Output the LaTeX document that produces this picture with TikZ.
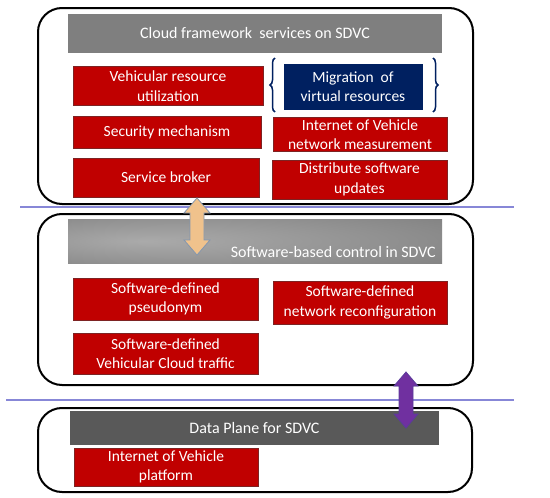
\documentclass[tikz,border=0pt]{standalone}
\usepackage{fontspec}
\setmainfont{Carlito}
\usepackage{tikz}
\usetikzlibrary{decorations.pathreplacing,positioning}
\usepackage{xcolor}
\definecolor{sdred}{RGB}{192,0,0}
\definecolor{sdredline}{RGB}{125,35,35}
\definecolor{sdnavy}{RGB}{0,32,96}
\definecolor{sdgray}{RGB}{127,127,127}
\definecolor{sddark}{RGB}{89,89,89}
\definecolor{sdlight}{RGB}{170,170,170}
\definecolor{sdmid}{RGB}{108,108,108}
\definecolor{sdline}{RGB}{135,135,215}
\definecolor{sdtan}{RGB}{240,194,140}
\definecolor{sdtanline}{RGB}{130,150,175}
\definecolor{sdpurple}{RGB}{112,48,160}
\definecolor{sdpurpleline}{RGB}{90,60,155}
\pgfdeclareradialshading{ctrlshade}{\pgfpoint{-15bp}{0bp}}{color(0bp)=(sdlight); color(65bp)=(sdmid)}
\tikzstyle{frame} = [line width=2pt, rounded corners=24pt]
\tikzstyle{header} = [inner sep=0pt, text=white, font=\fontsize{16}{19}\selectfont]
\tikzstyle{redbox} = [fill=sdred, draw=sdredline, line width=0.8pt, text=white, align=center, inner sep=0pt, font=\fontsize{15.5}{19.5}\selectfont]
\tikzstyle{layerline} = [line width=2pt, color=sdline]
\tikzstyle{updown} = [line width=0.8pt, line join=miter]
\tikzstyle{navybrace} = [decorate, decoration={brace, amplitude=5pt}, line width=1.5pt, color=sdnavy]

\begin{document}
\begin{tikzpicture}[x=1pt, y=-1pt]
\useasboundingbox (0,0) rectangle (550,498);

% Layer separators
\draw[layerline] (20,207) -- (514,207);
\draw[layerline] (6,400) -- (514,400);

% Cloud framework layer
\draw[frame] (38,8) rectangle (473,204);
\node[header, fill=sdgray, minimum width=374pt, minimum height=39pt] (cloudhead) at (255,33.5) {Cloud framework\ \ services on SDVC};
\node[redbox, minimum width=190pt, minimum height=39pt] (utilization) at (168,86) {Vehicular resource\\utilization};
\node[redbox, minimum width=188pt, minimum height=32pt] (security) at (167,132) {Security mechanism};
\node[redbox, minimum width=186pt, minimum height=39pt] (broker) at (166,177.5) {Service broker};
\node[redbox, fill=sdnavy, draw=sdnavy, minimum width=138pt, minimum height=45pt] (migration) at (353,86.5) {Migration\ \ of\\virtual resources};
\node[redbox, minimum width=174pt, minimum height=34pt] (measure) at (360,134.5) {Internet of Vehicle\\network measurement};
\node[redbox, minimum width=175pt, minimum height=39pt] (updates) at (359.5,179.5) {Distribute software\\updates};
\draw[navybrace] (275,112) -- (275,58);
\draw[navybrace] (433,58) -- (433,112);

% Software-based control layer
\draw[frame] (38,214) rectangle (473,385);
\node[header, shading=ctrlshade, minimum width=374pt, minimum height=44pt] (ctrlhead) at (255,241) {};
\node[header, anchor=east] (ctrltxt) at (436,252) {Software-based control in SDVC};
\node[redbox, minimum width=185pt, minimum height=42pt] (pseudonym) at (165.5,299) {Software-defined\\pseudonym};
\node[redbox, minimum width=174pt, minimum height=43pt] (reconfig) at (360,302.5) {Software-defined\\network reconfiguration};
\node[redbox, minimum width=185pt, minimum height=41pt] (traffic) at (165.5,353.5) {Software-defined\\Vehicular Cloud traffic};

% Data plane layer
\draw[frame] (38,408) rectangle (472,492);
\node[header, fill=sddark, minimum width=369pt, minimum height=34pt] (datahead) at (254.5,428) {Data Plane for SDVC};
\node[redbox, minimum width=184pt, minimum height=38pt] (platform) at (166,467) {Internet of Vehicle\\platform};

% Layer arrows
\draw[updown, fill=sdtan, draw=sdtanline] (197,198) -- (210,213) -- (204,213) -- (204,240) -- (210,240)
  -- (197,255) -- (184,240) -- (190,240) -- (190,213) -- (184,213) -- cycle;
\draw[updown, fill=sdpurple, draw=sdpurpleline] (406,372) -- (418,386) -- (413,386) -- (413,414) -- (418,414)
  -- (406,428) -- (394,414) -- (399,414) -- (399,386) -- (394,386) -- cycle;
\end{tikzpicture}
\end{document}
